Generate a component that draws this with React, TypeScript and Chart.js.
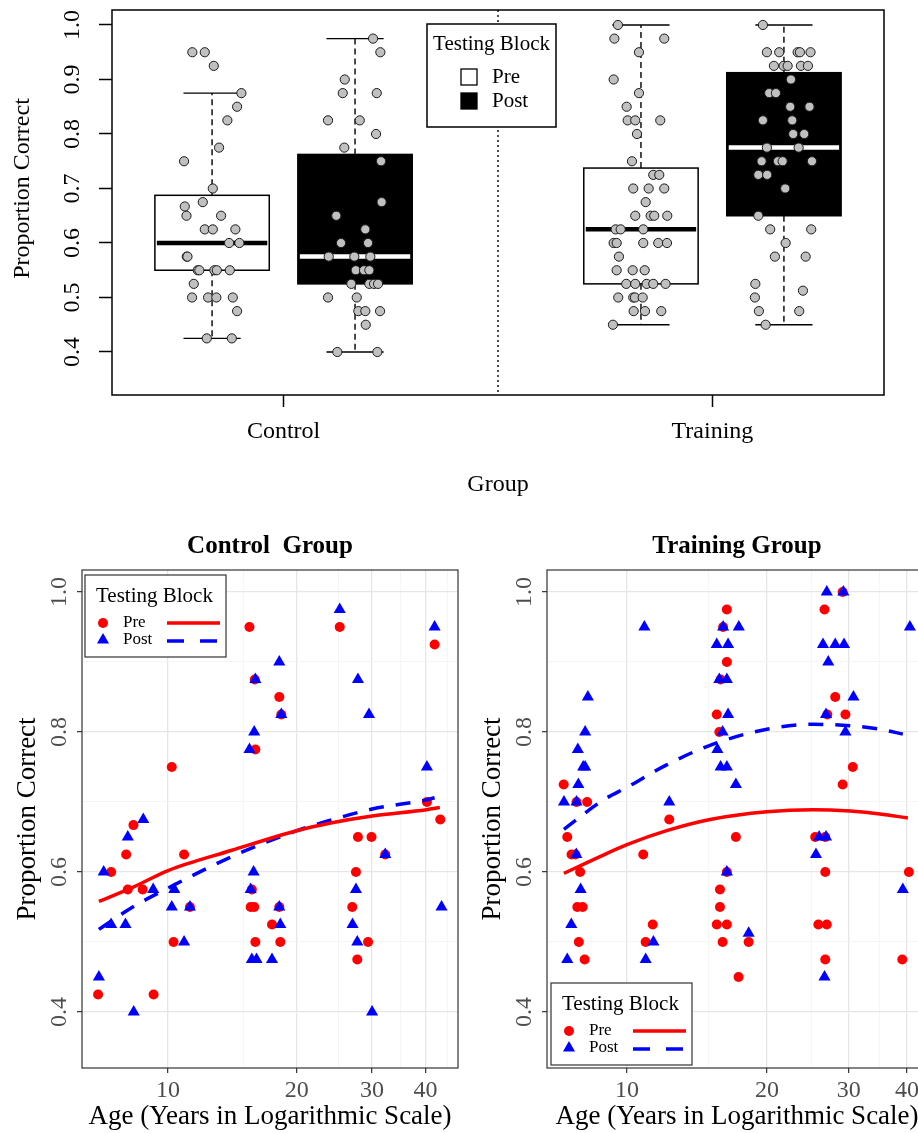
import React, { useEffect, useRef } from 'react';
import { Chart, registerables } from 'chart.js';

Chart.register(...registerables);

const FONT = "'Liberation Serif', 'Times New Roman', serif";
Chart.defaults.font.family = FONT;
Chart.defaults.color = '#000';

// ---------------- Top panel: box plots ----------------
const groupLabels = ['Control', 'Training'];
const groupTickPos = [1.5, 4.5];
const separatorPos = 3;
const boxPositions = [1, 2, 4, 5];
const boxBlocks = ['Pre', 'Post', 'Pre', 'Post'];
const whiskerLow = [0.425, 0.4, 0.45, 0.45];
const quartile1 = [0.55, 0.525, 0.525, 0.65];
const medians = [0.6, 0.575, 0.625, 0.775];
const quartile3 = [0.6875, 0.7625, 0.7375, 0.9125];
const whiskerHigh = [0.875, 0.975, 1.0, 1.0];
const topYTicks = [0.4, 0.5, 0.6, 0.7, 0.8, 0.9, 1.0];

const controlPreValues = [0.95, 0.95, 0.925, 0.875, 0.85, 0.825, 0.775, 0.75, 0.7, 0.667, 0.65, 0.675, 0.65, 0.625, 0.625, 0.625, 0.6, 0.6, 0.575, 0.575, 0.55, 0.55, 0.55, 0.55, 0.55, 0.525, 0.5, 0.5, 0.5, 0.5, 0.475, 0.425, 0.425];
const controlPreJitter = [-0.138, -0.051, 0.012, 0.205, 0.175, 0.107, 0.049, -0.196, 0.005, -0.191, -0.179, -0.065, 0.063, -0.051, 0.005, 0.163, 0.119, 0.191, -0.177, -0.172, -0.1, -0.089, 0.016, 0.033, 0.124, -0.128, -0.14, -0.028, 0.03, 0.145, 0.175, -0.037, 0.138];
const controlPostValues = [0.975, 0.95, 0.9, 0.875, 0.875, 0.825, 0.825, 0.8, 0.775, 0.75, 0.675, 0.65, 0.625, 0.6, 0.6, 0.575, 0.575, 0.575, 0.55, 0.55, 0.55, 0.525, 0.525, 0.525, 0.525, 0.5, 0.5, 0.475, 0.475, 0.475, 0.45, 0.4, 0.4];
const controlPostJitter = [0.126, 0.177, -0.072, -0.086, 0.152, -0.189, 0.033, 0.147, -0.075, 0.182, 0.186, -0.131, 0.072, -0.098, 0.091, -0.184, -0.005, 0.107, 0.005, 0.063, 0.1, -0.026, 0.1, 0.133, 0.161, -0.189, 0.012, 0.023, 0.072, 0.175, 0.075, -0.124, 0.156];
const trainingPreValues = [1.0, 0.975, 0.975, 0.95, 0.9, 0.875, 0.85, 0.825, 0.825, 0.825, 0.8, 0.75, 0.725, 0.725, 0.7, 0.7, 0.7, 0.675, 0.65, 0.65, 0.65, 0.65, 0.625, 0.625, 0.625, 0.6, 0.6, 0.6, 0.6, 0.6, 0.575, 0.55, 0.55, 0.55, 0.525, 0.525, 0.525, 0.525, 0.525, 0.5, 0.5, 0.5, 0.5, 0.475, 0.475, 0.475, 0.45];
const trainingPreJitter = [-0.161, -0.186, 0.163, -0.014, -0.191, -0.014, -0.1, -0.093, -0.04, 0.135, -0.028, -0.063, 0.086, 0.128, -0.054, 0.054, 0.163, 0.033, -0.04, 0.068, 0.093, 0.184, -0.177, -0.142, 0.016, -0.191, -0.17, 0.016, 0.121, 0.182, -0.154, -0.17, -0.058, 0.026, -0.103, -0.04, 0.04, 0.086, 0.172, -0.159, -0.054, -0.042, 0.012, -0.051, 0.028, 0.142, -0.196];
const trainingPostValues = [1.0, 0.95, 0.95, 0.95, 0.95, 0.95, 0.925, 0.925, 0.925, 0.925, 0.925, 0.9, 0.875, 0.875, 0.85, 0.85, 0.825, 0.825, 0.8, 0.8, 0.775, 0.775, 0.75, 0.75, 0.75, 0.75, 0.725, 0.725, 0.7, 0.65, 0.625, 0.625, 0.6, 0.575, 0.575, 0.525, 0.5125, 0.5, 0.475, 0.475, 0.45];
const trainingPostJitter = [-0.147, -0.119, -0.033, 0.096, 0.112, 0.186, -0.07, -0.002, 0.026, 0.119, 0.168, 0.049, -0.103, -0.056, 0.044, 0.179, -0.147, 0.058, 0.065, 0.142, -0.119, 0.103, -0.156, -0.042, -0.009, 0.196, -0.179, -0.117, 0.009, -0.179, -0.096, 0.191, 0.012, -0.063, 0.152, -0.2, 0.133, -0.203, -0.175, 0.107, -0.128];

// ---------------- Bottom panels: age scatter ----------------
const ageTickLabels = [10, 20, 30, 40];
const ageGridValues = [10, 15, 20, 25, 30, 35, 40, 45];
const propTickLabels = [0.4, 0.6, 0.8, 1.0];
const propGridValues = [0.4, 0.5, 0.6, 0.7, 0.8, 0.9, 1.0];

const controlPreAges = [6.86, 7.36, 8.05, 7.98, 8.3, 8.72, 9.25, 10.2, 10.3, 10.9, 11.25, 15.5, 15.95, 16.0, 15.7, 15.6, 15.9, 16.0, 17.5, 18.2, 18.4, 18.2, 18.3, 25.2, 27.8, 29.9, 27.5, 26.96, 29.35, 27.7, 32.2, 42.0, 40.3, 43.3];
const controlPreScores = [0.425, 0.6, 0.575, 0.625, 0.667, 0.575, 0.425, 0.75, 0.5, 0.625, 0.55, 0.95, 0.875, 0.775, 0.575, 0.55, 0.55, 0.5, 0.525, 0.85, 0.825, 0.55, 0.5, 0.95, 0.65, 0.65, 0.6, 0.55, 0.5, 0.475, 0.625, 0.925, 0.7, 0.675];
const controlPostAges = [6.89, 7.07, 7.36, 7.95, 8.05, 8.31, 8.75, 9.23, 10.34, 10.2, 10.9, 11.25, 15.5, 15.9, 16.0, 15.85, 15.6, 15.7, 16.1, 17.5, 18.2, 18.4, 18.2, 18.3, 25.2, 27.8, 29.5, 27.5, 27.0, 27.7, 30.0, 32.2, 42.0, 40.3, 43.6];
const controlPostScores = [0.45, 0.6, 0.525, 0.525, 0.65, 0.4, 0.675, 0.575, 0.575, 0.55, 0.5, 0.55, 0.775, 0.8, 0.875, 0.6, 0.575, 0.475, 0.475, 0.475, 0.9, 0.825, 0.55, 0.525, 0.975, 0.875, 0.825, 0.575, 0.525, 0.5, 0.4, 0.625, 0.95, 0.75, 0.55];
const controlPreFitAges = [6.89, 8.27, 10, 14.1, 20, 24, 30, 40.2, 43.2];
const controlPreFit = [0.558, 0.578, 0.602, 0.631, 0.659, 0.67, 0.68, 0.689, 0.692];
const controlPostFitAges = [6.89, 8.27, 10, 14.1, 20, 24, 30, 40.2, 42.0];
const controlPostFit = [0.518, 0.55, 0.577, 0.622, 0.659, 0.674, 0.69, 0.703, 0.706];

const trainingPreAges = [7.31, 7.44, 7.6, 7.75, 7.93, 7.82, 8.03, 7.88, 8.11, 7.79, 8.21, 10.84, 10.97, 11.36, 12.33, 15.6, 15.8, 16.1, 16.4, 16.4, 15.9, 15.85, 15.85, 15.6, 16.4, 16.06, 16.4, 17.15, 18.27, 17.38, 26.6, 29.1, 28.05, 26.97, 29.5, 30.6, 29.1, 25.4, 26.7, 26.7, 25.8, 26.9, 26.7, 39.1, 40.4];
const trainingPreScores = [0.725, 0.65, 0.625, 0.625, 0.6, 0.55, 0.55, 0.5, 0.475, 0.7, 0.7, 0.625, 0.5, 0.525, 0.675, 0.825, 0.8, 0.95, 0.975, 0.9, 0.875, 0.575, 0.55, 0.525, 0.525, 0.5, 0.6, 0.65, 0.5, 0.45, 0.975, 1.0, 0.85, 0.825, 0.825, 0.75, 0.725, 0.65, 0.65, 0.6, 0.525, 0.525, 0.475, 0.475, 0.6];
const trainingPostAges = [7.32, 7.79, 7.78, 7.86, 7.84, 8.05, 8.13, 8.13, 8.24, 7.95, 7.59, 7.44, 10.9, 10.97, 11.4, 12.33, 16.1, 15.6, 16.5, 15.8, 16.4, 16.5, 16.06, 15.65, 15.9, 16.4, 16.4, 17.15, 17.4, 18.27, 26.9, 29.2, 26.4, 28.05, 29.3, 27.1, 26.8, 30.7, 29.5, 25.5, 25.9, 26.8, 26.6, 40.6, 39.2];
const trainingPostScores = [0.7, 0.7, 0.625, 0.725, 0.775, 0.75, 0.75, 0.8, 0.85, 0.575, 0.525, 0.475, 0.95, 0.475, 0.5, 0.7, 0.95, 0.925, 0.925, 0.875, 0.875, 0.825, 0.8, 0.775, 0.75, 0.75, 0.6, 0.725, 0.95, 0.5125, 1.0, 1.0, 0.925, 0.925, 0.925, 0.9, 0.825, 0.85, 0.8, 0.625, 0.65, 0.65, 0.45, 0.95, 0.575];
const trainingPreFitAges = [7.32, 8.75, 10, 12.17, 15.09, 20, 25.1, 30.2, 35.0, 40.2];
const trainingPreFit = [0.598, 0.622, 0.639, 0.659, 0.675, 0.686, 0.689, 0.687, 0.683, 0.677];
const trainingPostFitAges = [7.32, 8.9, 10, 12.17, 15.09, 20, 25.1, 30.2, 35.0, 39.2];
const trainingPostFit = [0.661, 0.703, 0.721, 0.753, 0.781, 0.804, 0.811, 0.809, 0.804, 0.797];

const RED = '#ff0000';
const BLUE = '#0000ff';

function line(ctx: CanvasRenderingContext2D, x1: number, y1: number, x2: number, y2: number) {
  ctx.beginPath();
  ctx.moveTo(x1, y1);
  ctx.lineTo(x2, y2);
  ctx.stroke();
}

function rotatedText(ctx: CanvasRenderingContext2D, text: string, x: number, y: number) {
  ctx.save();
  ctx.translate(x, y);
  ctx.rotate(-Math.PI / 2);
  ctx.textAlign = 'center';
  ctx.textBaseline = 'middle';
  ctx.fillText(text, 0, 0);
  ctx.restore();
}

function jittered(pos: number, values: number[], jitter: number[]) {
  return values.map((v, i) => ({ x: pos + jitter[i], y: v }));
}

const topPlugin = {
  id: 'boxDecor',
  beforeDatasetsDraw(chart: any) {
    const { ctx, chartArea: a } = chart;
    const x = chart.scales.x;
    const y = chart.scales.y;
    ctx.save();
    ctx.strokeStyle = '#000';
    ctx.lineWidth = 1.4;
    ctx.setLineDash([2, 3]);
    const sx = x.getPixelForValue(separatorPos);
    line(ctx, sx, a.top, sx, a.bottom);
    boxPositions.forEach((p, i) => {
      const cx = x.getPixelForValue(p);
      const l = x.getPixelForValue(p - 0.4);
      const r = x.getPixelForValue(p + 0.4);
      const cl = x.getPixelForValue(p - 0.2);
      const cr = x.getPixelForValue(p + 0.2);
      const yLo = y.getPixelForValue(whiskerLow[i]);
      const yQ1 = y.getPixelForValue(quartile1[i]);
      const yMed = y.getPixelForValue(medians[i]);
      const yQ3 = y.getPixelForValue(quartile3[i]);
      const yHi = y.getPixelForValue(whiskerHigh[i]);
      const post = boxBlocks[i] === 'Post';
      ctx.strokeStyle = '#000';
      ctx.lineWidth = 1.4;
      ctx.setLineDash([6, 4]);
      line(ctx, cx, yQ3, cx, yHi);
      line(ctx, cx, yQ1, cx, yLo);
      ctx.setLineDash([]);
      line(ctx, cl, yHi, cr, yHi);
      line(ctx, cl, yLo, cr, yLo);
      ctx.fillStyle = post ? '#000' : '#fff';
      ctx.fillRect(l, yQ3, r - l, yQ1 - yQ3);
      ctx.lineWidth = 1.5;
      ctx.strokeRect(l, yQ3, r - l, yQ1 - yQ3);
      ctx.strokeStyle = post ? '#fff' : '#000';
      ctx.lineWidth = 4.5;
      line(ctx, l + 2, yMed, r - 2, yMed);
    });
    ctx.restore();
  },
  afterDatasetsDraw(chart: any) {
    const { ctx, chartArea: a } = chart;
    const y = chart.scales.y;
    ctx.save();
    ctx.strokeStyle = '#000';
    ctx.lineWidth = 1.5;
    ctx.strokeRect(a.left, a.top, a.right - a.left, a.bottom - a.top);
    ctx.fillStyle = '#000';
    ctx.font = `24px ${FONT}`;
    topYTicks.forEach((v) => rotatedText(ctx, v.toFixed(1), a.left - 39, y.getPixelForValue(v)));
    rotatedText(ctx, 'Proportion Correct', 23, y.getPixelForValue(0.7));
    // legend
    const lx = 427, ly = 24, lw = 129, lh = 103;
    ctx.fillStyle = '#fff';
    ctx.fillRect(lx, ly, lw, lh);
    ctx.strokeRect(lx, ly, lw, lh);
    ctx.fillStyle = '#000';
    ctx.font = `21px ${FONT}`;
    ctx.textAlign = 'center';
    ctx.textBaseline = 'middle';
    ctx.fillText('Testing Block', lx + lw / 2, ly + 20);
    ctx.lineWidth = 1.3;
    ctx.fillStyle = '#fff';
    ctx.fillRect(lx + 34, ly + 45, 16, 16);
    ctx.strokeRect(lx + 34, ly + 45, 16, 16);
    ctx.fillStyle = '#000';
    ctx.fillRect(lx + 34, ly + 69, 16, 16);
    ctx.strokeRect(lx + 34, ly + 69, 16, 16);
    ctx.textAlign = 'left';
    ctx.fillText('Pre', lx + 65, ly + 53);
    ctx.fillText('Post', lx + 65, ly + 77);
    ctx.restore();
  },
};

function drawTriangle(ctx: CanvasRenderingContext2D, cx: number, cy: number, r: number) {
  ctx.beginPath();
  ctx.moveTo(cx, cy - r);
  ctx.lineTo(cx + r * Math.sin(Math.PI / 3), cy + r / 2);
  ctx.lineTo(cx - r * Math.sin(Math.PI / 3), cy + r / 2);
  ctx.closePath();
  ctx.fill();
}

function makePanelPlugin(title: string, legendX: number, legendY: number) {
  return {
    id: 'panelDecor',
    afterDatasetsDraw(chart: any) {
      const { ctx, chartArea: a } = chart;
      const y = chart.scales.y;
      ctx.save();
      ctx.strokeStyle = '#333';
      ctx.lineWidth = 1.2;
      ctx.strokeRect(a.left, a.top, a.right - a.left, a.bottom - a.top);
      ctx.fillStyle = '#4d4d4d';
      ctx.font = `24px ${FONT}`;
      propTickLabels.forEach((v) => rotatedText(ctx, v.toFixed(1), a.left - 22, y.getPixelForValue(v)));
      ctx.fillStyle = '#000';
      ctx.font = `bold 25px ${FONT}`;
      ctx.textAlign = 'center';
      ctx.textBaseline = 'middle';
      ctx.fillText(title, (a.left + a.right) / 2, a.top - 23);
      // legend
      const bx = legendX, by = legendY, bw = 141, bh = 82;
      ctx.fillStyle = '#fff';
      ctx.fillRect(bx, by, bw, bh);
      ctx.strokeStyle = '#333';
      ctx.lineWidth = 1.2;
      ctx.strokeRect(bx, by, bw, bh);
      ctx.fillStyle = '#000';
      ctx.textAlign = 'left';
      ctx.font = `21px ${FONT}`;
      ctx.fillText('Testing Block', bx + 11, by + 21);
      ctx.font = `17px ${FONT}`;
      ctx.fillText('Pre', bx + 38, by + 48);
      ctx.fillText('Post', bx + 38, by + 65);
      ctx.fillStyle = RED;
      ctx.beginPath();
      ctx.arc(bx + 18, by + 48, 5, 0, Math.PI * 2);
      ctx.fill();
      ctx.fillStyle = BLUE;
      drawTriangle(ctx, bx + 18, by + 65, 7);
      ctx.lineWidth = 3.5;
      ctx.strokeStyle = RED;
      line(ctx, bx + 82, by + 48, bx + 135, by + 48);
      ctx.strokeStyle = BLUE;
      ctx.setLineDash([17, 16]);
      line(ctx, bx + 82, by + 66, bx + 135, by + 66);
      ctx.restore();
    },
  };
}

function topConfig(): any {
  const pointStyle = { backgroundColor: '#c0c0c0', borderColor: '#1a1a1a', borderWidth: 1, pointRadius: 4.6 };
  return {
    type: 'scatter',
    data: {
      datasets: [
        { label: 'Control Pre', data: jittered(boxPositions[0], controlPreValues, controlPreJitter), ...pointStyle },
        { label: 'Control Post', data: jittered(boxPositions[1], controlPostValues, controlPostJitter), ...pointStyle },
        { label: 'Training Pre', data: jittered(boxPositions[2], trainingPreValues, trainingPreJitter), ...pointStyle },
        { label: 'Training Post', data: jittered(boxPositions[3], trainingPostValues, trainingPostJitter), ...pointStyle },
      ],
    },
    options: {
      responsive: false,
      animation: false,
      layout: { padding: { left: 0, top: 10, right: 34, bottom: 0 } },
      plugins: { legend: { display: false }, tooltip: { enabled: false } },
      scales: {
        x: {
          type: 'linear',
          bounds: 'data',
          min: 0.3,
          max: 5.7,
          afterBuildTicks: (s: any) => { s.ticks = groupTickPos.map((v) => ({ value: v })); },
          afterFit: (s: any) => { s.height = 115; },
          ticks: {
            autoSkip: false, maxRotation: 0, minRotation: 0, padding: 10, color: '#000',
            font: { size: 24 },
            callback: (_v: any, i: number) => groupLabels[i],
          },
          grid: { drawOnChartArea: false, drawTicks: true, tickLength: 12, tickColor: '#000', tickWidth: 1.5 },
          border: { display: false },
          title: { display: true, text: 'Group', color: '#000', font: { size: 24 }, padding: { top: 0, bottom: 11 } },
        },
        y: {
          type: 'linear',
          bounds: 'data',
          min: 0.3211,
          max: 1.0275,
          afterBuildTicks: (s: any) => { s.ticks = topYTicks.map((v) => ({ value: v })); },
          afterFit: (s: any) => { s.width = 112; },
          ticks: { display: false },
          grid: { drawOnChartArea: false, drawTicks: true, tickLength: 13, tickColor: '#000', tickWidth: 1.5 },
          border: { display: false },
        },
      },
    },
    plugins: [topPlugin],
  };
}

function scatterConfig(
  title: string,
  preAges: number[], preScores: number[], postAges: number[], postScores: number[],
  preFitAges: number[], preFit: number[], postFitAges: number[], postFit: number[],
  xMin: number, xMax: number, padRight: number, legendX: number, legendY: number,
): any {
  const isMajorX = (v: number) => ageTickLabels.includes(v);
  const isMajorY = (v: number) => propTickLabels.some((t) => Math.abs(t - v) < 1e-6);
  return {
    type: 'scatter',
    data: {
      datasets: [
        {
          label: 'Pre fit', data: preFitAges.map((a, i) => ({ x: a, y: preFit[i] })), showLine: true,
          borderColor: RED, borderWidth: 3.5, pointRadius: 0, cubicInterpolationMode: 'monotone', fill: false,
        },
        {
          label: 'Post fit', data: postFitAges.map((a, i) => ({ x: a, y: postFit[i] })), showLine: true,
          borderColor: BLUE, borderWidth: 3.5, borderDash: [15, 12], pointRadius: 0, cubicInterpolationMode: 'monotone', fill: false,
        },
        {
          label: 'Post', data: postAges.map((a, i) => ({ x: a, y: postScores[i] })),
          pointStyle: 'triangle', pointRadius: 7, backgroundColor: BLUE, borderWidth: 0,
        },
        {
          label: 'Pre', data: preAges.map((a, i) => ({ x: a, y: preScores[i] })),
          pointStyle: 'circle', pointRadius: 5, backgroundColor: RED, borderWidth: 0,
        },
      ],
    },
    options: {
      responsive: false,
      animation: false,
      layout: { padding: { left: 0, top: 50, right: padRight, bottom: 0 } },
      plugins: { legend: { display: false }, tooltip: { enabled: false } },
      scales: {
        x: {
          type: 'logarithmic',
          bounds: 'data',
          min: xMin,
          max: xMax,
          afterBuildTicks: (s: any) => { s.ticks = ageGridValues.map((v) => ({ value: v })); },
          afterFit: (s: any) => { s.height = 65; },
          ticks: {
            autoSkip: false, maxRotation: 0, minRotation: 0, padding: 3, color: '#4d4d4d',
            font: { size: 24 },
            callback: (v: any) => (isMajorX(Number(v)) ? String(v) : ''),
          },
          grid: {
            color: (c: any) => (c.tick && isMajorX(c.tick.value) ? '#e6e6e6' : '#f2f2f2'),
            lineWidth: (c: any) => (c.tick && isMajorX(c.tick.value) ? 1.3 : 0.8),
            tickColor: (c: any) => (c.tick && isMajorX(c.tick.value) ? '#333' : 'rgba(0,0,0,0)'),
            tickLength: 5,
            tickWidth: 1.2,
          },
          border: { display: false },
          title: { display: true, text: 'Age (Years in Logarithmic Scale)', color: '#000', font: { size: 27 }, padding: { top: 0, bottom: 0 } },
        },
        y: {
          type: 'linear',
          bounds: 'data',
          min: 0.32,
          max: 1.0314,
          afterBuildTicks: (s: any) => { s.ticks = propGridValues.map((v) => ({ value: v })); },
          afterFit: (s: any) => { s.width = 82; },
          ticks: { display: false },
          grid: {
            color: (c: any) => (c.tick && isMajorY(c.tick.value) ? '#e6e6e6' : '#f2f2f2'),
            lineWidth: (c: any) => (c.tick && isMajorY(c.tick.value) ? 1.3 : 0.8),
            tickColor: (c: any) => (c.tick && isMajorY(c.tick.value) ? '#333' : 'rgba(0,0,0,0)'),
            tickLength: 5,
            tickWidth: 1.2,
          },
          border: { display: false },
          title: { display: true, text: 'Proportion Correct', color: '#000', font: { size: 27 }, padding: { top: 12, bottom: 0 } },
        },
      },
    },
    plugins: [makePanelPlugin(title, legendX, legendY)],
  };
}

export default function App() {
  const topRef = useRef<HTMLCanvasElement>(null);
  const leftRef = useRef<HTMLCanvasElement>(null);
  const rightRef = useRef<HTMLCanvasElement>(null);

  useEffect(() => {
    const charts = [
      new Chart(topRef.current as HTMLCanvasElement, topConfig()),
      new Chart(
        leftRef.current as HTMLCanvasElement,
        scatterConfig('Control  Group', controlPreAges, controlPreScores, controlPostAges, controlPostScores,
          controlPreFitAges, controlPreFit, controlPostFitAges, controlPostFit, 6.291, 47.64, 3, 85, 55),
      ),
      new Chart(
        rightRef.current as HTMLCanvasElement,
        scatterConfig('Training Group', trainingPreAges, trainingPreScores, trainingPostAges, trainingPostScores,
          trainingPreFitAges, trainingPreFit, trainingPostFitAges, trainingPostFit, 6.73, 44.19, 13, 86, 463),
      ),
    ];
    return () => charts.forEach((c) => c.destroy());
  }, []);

  return (
    <div style={{ position: 'absolute', left: 0, top: 0, width: 918, height: 1133, overflow: 'hidden', background: '#fff' }}>
      <canvas ref={topRef} width={918} height={510} style={{ position: 'absolute', left: 0, top: 0 }} />
      <canvas ref={leftRef} width={465} height={613} style={{ position: 'absolute', left: 0, top: 520 }} />
      <canvas ref={rightRef} width={475} height={613} style={{ position: 'absolute', left: 465, top: 520 }} />
    </div>
  );
}
